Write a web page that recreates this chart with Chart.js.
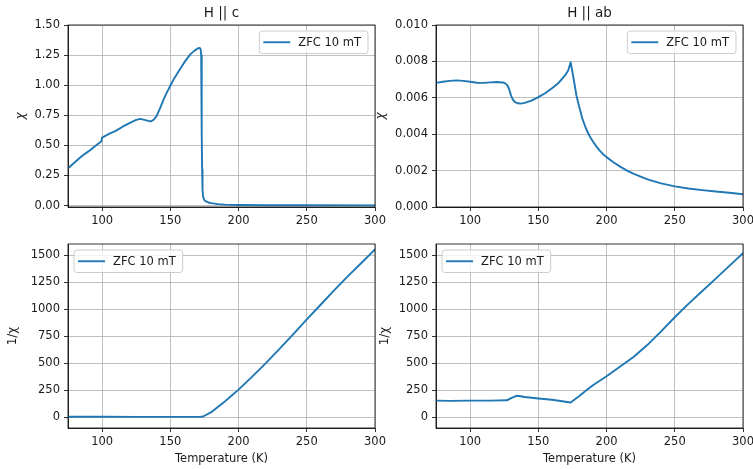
<!DOCTYPE html>
<html>
<head>
<meta charset="utf-8">
<script src="https://cdn.jsdelivr.net/npm/chart.js@4.4.0/dist/chart.umd.min.js"></script>
<style>
    body { margin: 0; background: #fff; }
    #wrap { position: relative; width: 753px; height: 469px; overflow: hidden; }
    canvas { position: absolute; }
</style>
</head>
<body>
<div id="wrap">
    <canvas id="chiC"></canvas>
    <canvas id="chiAB"></canvas>
    <canvas id="invC"></canvas>
    <canvas id="invAB"></canvas>
</div>
<script>
// x ticks shared by all panels
const xTicks = [100, 150, 200, 250, 300];

// H || c, chi
const tempC = [75, 80, 85, 90, 95, 99.5, 100, 105, 110, 115, 120, 125, 128, 131, 134, 136, 138, 140, 142.5, 145, 147.5, 150, 152.5, 155, 157.5, 160, 162.5, 165, 167.5, 170, 171.5, 172.2, 172.6, 172.9, 173.1, 173.3, 173.6, 174.1, 175, 176.5, 178, 180, 185, 190, 200, 220, 250, 300];
const chiC = [0.31, 0.36, 0.41, 0.45, 0.495, 0.535, 0.565, 0.595, 0.62, 0.655, 0.685, 0.712, 0.72, 0.712, 0.703, 0.70, 0.715, 0.745, 0.81, 0.88, 0.94, 0.995, 1.05, 1.095, 1.14, 1.185, 1.225, 1.26, 1.285, 1.305, 1.31, 1.30, 1.25, 1.0, 0.6, 0.3, 0.13, 0.07, 0.045, 0.032, 0.025, 0.02, 0.012, 0.008, 0.005, 0.003, 0.002, 0.0015];
const chiCTicks = [0, 0.25, 0.5, 0.75, 1.0, 1.25, 1.5];

// H || ab, chi
const tempAB = [75, 80, 85, 90, 95, 100, 105, 110, 115, 120, 125, 127, 128.5, 130, 131.5, 133, 135, 137, 140, 145, 150, 155, 160, 165, 168, 170, 172, 173.7, 175.5, 178, 180, 182.5, 185, 187.5, 190, 192.5, 195, 197.5, 200, 205, 210, 215, 220, 230, 240, 250, 260, 270, 280, 290, 300];
const chiAB = [0.00682, 0.00688, 0.00693, 0.00696, 0.00693, 0.00688, 0.00683, 0.00682, 0.00685, 0.00687, 0.00683, 0.00672, 0.0065, 0.00612, 0.00588, 0.00576, 0.0057, 0.00568, 0.00572, 0.00585, 0.00604, 0.00625, 0.00652, 0.00683, 0.0071, 0.00727, 0.00752, 0.00795, 0.0072, 0.0061, 0.0055, 0.0048, 0.0043, 0.0039, 0.0036, 0.00333, 0.0031, 0.0029, 0.00274, 0.00246, 0.00222, 0.002, 0.00182, 0.00152, 0.0013, 0.00113, 0.00102, 0.00093, 0.00085, 0.00078, 0.0007];
const chiABTicks = [0, 0.002, 0.004, 0.006, 0.008, 0.010];

// H || c, 1/chi
const tempInvC = [75, 100, 125, 150, 165, 172, 174, 180, 185, 190, 195, 200, 210, 220, 230, 240, 250, 260, 270, 280, 290, 300];
const invChiC = [3, 2, 1.5, 1, 1, 1, 5, 45, 95, 145, 200, 254, 375, 500, 632, 768, 906, 1040, 1175, 1305, 1430, 1555];

// H || ab, 1/chi
const tempInvAB = [75, 85, 100, 115, 127, 130, 134, 137, 140, 150, 160, 173.7, 180, 185, 190, 200, 210, 220, 230, 240, 250, 260, 270, 280, 290, 300];
const invChiAB = [152, 150, 152, 152, 155, 175, 197, 193, 186, 172, 160, 135, 195, 245, 295, 378, 468, 560, 670, 795, 926, 1050, 1168, 1285, 1403, 1521];
const invTicks = [0, 250, 500, 750, 1000, 1250, 1500];

const FONT = '"DejaVu Sans", sans-serif';
const LINE = '#1f77b4';
const TXT = '#1a1a1a';

// frame, title and matplotlib style legend
const frame = {
    id: 'frame',
    afterDraw(chart, args, opts) {
        const { ctx, chartArea: a } = chart;
        ctx.save();
        ctx.strokeStyle = '#000';
        ctx.lineWidth = 0.8;
        ctx.strokeRect(a.left, a.top, a.right - a.left, a.bottom - a.top);
        if (opts.title) {
            ctx.fillStyle = TXT;
            ctx.font = '13.5px ' + FONT;
            ctx.textAlign = 'center';
            ctx.textBaseline = 'middle';
            ctx.fillText(opts.title, (a.left + a.right) / 2, a.top - 12);
        }
        const label = chart.data.datasets[0].label;
        ctx.font = '11.5px ' + FONT;
        const w = 39 + ctx.measureText(label).width + 7;
        const h = 22.5;
        const x = opts.legend === 'left' ? a.left + 6 : a.right - 7 - w;
        const y = a.top + 6;
        ctx.beginPath();
        ctx.roundRect(x, y, w, h, 3);
        ctx.fillStyle = 'rgba(255,255,255,0.8)';
        ctx.fill();
        ctx.strokeStyle = '#cccccc';
        ctx.lineWidth = 1;
        ctx.stroke();
        ctx.beginPath();
        ctx.moveTo(x + 4, y + h / 2);
        ctx.lineTo(x + 31, y + h / 2);
        ctx.strokeStyle = LINE;
        ctx.lineWidth = 1.9;
        ctx.stroke();
        ctx.fillStyle = TXT;
        ctx.textAlign = 'left';
        ctx.textBaseline = 'middle';
        ctx.fillText(label, x + 39, y + h / 2 + 0.5);
        ctx.restore();
    }
};

const makePanel = (id, p) => {
    const cv = document.getElementById(id);
    cv.width = p.w;
    cv.height = p.h;
    cv.style.left = p.x + 'px';
    cv.style.top = p.y + 'px';
    return new Chart(cv.getContext('2d'), {
        type: 'line',
        data: {
            datasets: [{
                label: 'ZFC 10 mT',
                data: p.temps.map((t, i) => ({ x: t, y: p.vals[i] })),
                borderColor: LINE,
                backgroundColor: LINE,
                borderWidth: 1.9,
                borderJoinStyle: 'round',
                borderCapStyle: 'round',
                pointRadius: 0,
                tension: 0
            }]
        },
        options: {
            responsive: false,
            animation: false,
            devicePixelRatio: 1,
            layout: { padding: { left: 0, top: p.top, right: p.right, bottom: 0 } },
            plugins: {
                legend: { display: false },
                tooltip: { enabled: false },
                frame: { title: p.title, legend: p.legend }
            },
            scales: {
                x: {
                    type: 'linear',
                    min: 75,
                    max: 300,
                    afterBuildTicks: (s) => { s.ticks = xTicks.map(v => ({ value: v })); },
                    afterFit: (s) => { s.height = p.xh; s.paddingLeft = 0; s.paddingRight = 0; },
                    grid: { color: '#b0b0b0', lineWidth: 0.8, tickColor: '#000', tickLength: 4 },
                    border: { display: true, color: '#000', width: 0.8 },
                    ticks: { color: TXT, font: { family: FONT, size: 11.5 }, padding: 3, maxRotation: 0 },
                    title: {
                        display: !!p.xTitle,
                        text: p.xTitle || '',
                        color: TXT,
                        font: { family: FONT, size: 11.5 },
                        padding: { top: 0, bottom: 3 }
                    }
                },
                y: {
                    min: p.ymin,
                    max: p.ymax,
                    afterBuildTicks: (s) => { s.ticks = p.yTicks.map(v => ({ value: v })); },
                    afterFit: (s) => { s.width = p.yw; s.paddingTop = 0; s.paddingBottom = 0; },
                    grid: { color: '#b0b0b0', lineWidth: 0.8, tickColor: '#000', tickLength: 4 },
                    border: { display: true, color: '#000', width: 0.8 },
                    ticks: {
                        color: TXT,
                        font: { family: FONT, size: 11.5 },
                        padding: 4,
                        callback: (v) => v.toFixed(p.dec)
                    },
                    title: {
                        display: true,
                        text: p.yTitle,
                        color: TXT,
                        font: { family: FONT, size: 12, style: p.yTitle === 'χ' ? 'italic' : 'normal' },
                        padding: { top: p.ytPad, bottom: 0 }
                    }
                }
            }
        },
        plugins: [frame]
    });
};

makePanel('chiC', {
    x: 0, y: 0, w: 392, h: 232, yw: 68, xh: 25, top: 25, right: 17,
    temps: tempC, vals: chiC, ymin: -0.012, ymax: 1.5, yTicks: chiCTicks, dec: 2,
    yTitle: 'χ', ytPad: 14, title: 'H || c', legend: 'right'
});

makePanel('chiAB', {
    x: 374, y: 0, w: 379, h: 232, yw: 62, xh: 25, top: 25, right: 10,
    temps: tempAB, vals: chiAB, ymin: 0, ymax: 0.010, yTicks: chiABTicks, dec: 3,
    yTitle: 'χ', ytPad: 0, title: 'H || ab', legend: 'right'
});

makePanel('invC', {
    x: 0, y: 232, w: 392, h: 237, yw: 68, xh: 41, top: 12, right: 17,
    temps: tempInvC, vals: invChiC, ymin: -102, ymax: 1606, yTicks: invTicks, dec: 0,
    yTitle: '1/χ', ytPad: 6, xTitle: 'Temperature (K)', legend: 'left'
});

makePanel('invAB', {
    x: 374, y: 232, w: 379, h: 237, yw: 62, xh: 41, top: 12, right: 10,
    temps: tempInvAB, vals: invChiAB, ymin: -102, ymax: 1606, yTicks: invTicks, dec: 0,
    yTitle: '1/χ', ytPad: 4, xTitle: 'Temperature (K)', legend: 'left'
});
</script>
</body>
</html>
